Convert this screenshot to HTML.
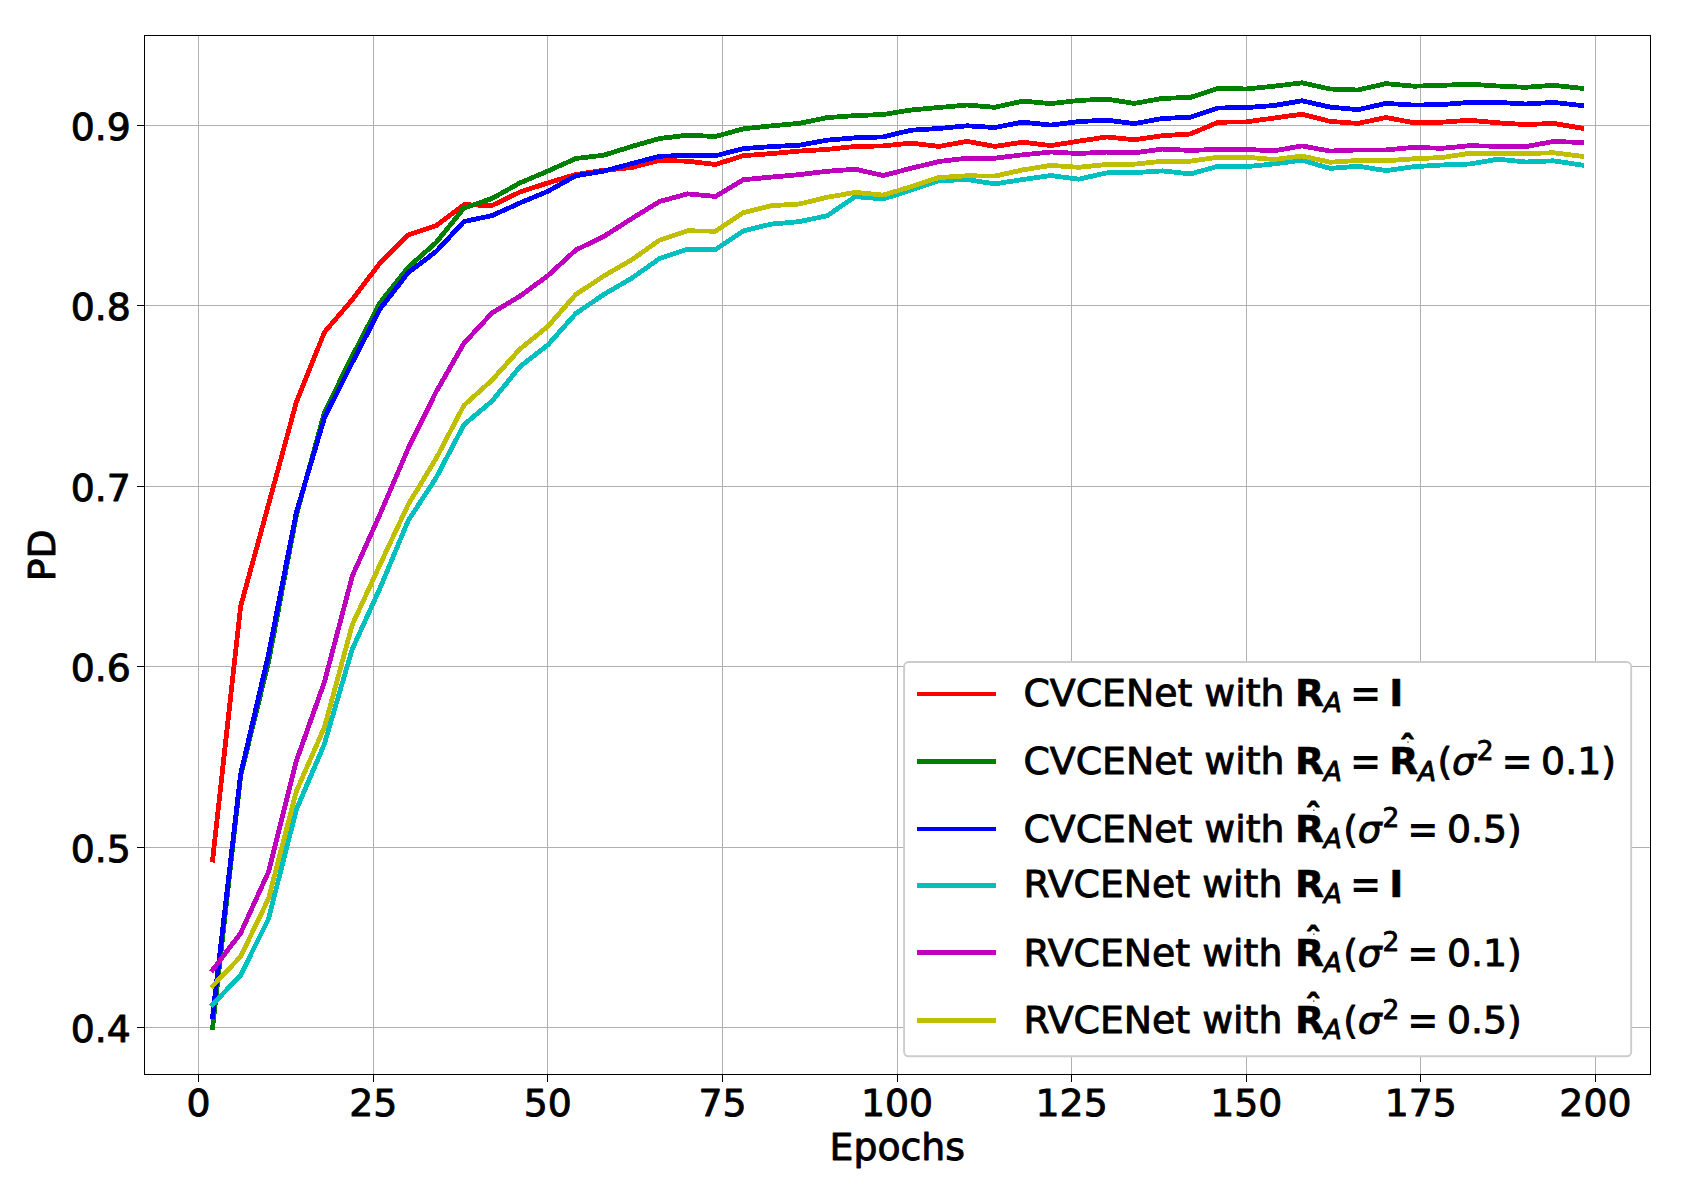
<!DOCTYPE html>
<html lang="en"><head><meta charset="utf-8"><title>PD vs Epochs</title>
<style>html,body{margin:0;padding:0;background:#fff}body{width:1686px;height:1192px;overflow:hidden}svg{display:block}
text{font-family:"DejaVu Sans","Liberation Sans",sans-serif;fill:#000;stroke:#000;stroke-width:0.9px;stroke-linejoin:round}
.t{font-size:37.80px}.b{font-weight:bold;stroke-width:0.5px}.e{font-weight:bold;stroke:none}.i{font-style:italic}.s{font-size:26.46px}.h{font-size:33.00px;font-weight:bold}
</style></head><body>
<svg width="1686" height="1192" viewBox="0 0 1686 1192">
<rect width="1686" height="1192" fill="#fff"/>
<path d="M198.50 35.50V1074.50M373.50 35.50V1074.50M547.50 35.50V1074.50M722.50 35.50V1074.50M897.50 35.50V1074.50M1071.50 35.50V1074.50M1246.50 35.50V1074.50M1420.50 35.50V1074.50M1595.50 35.50V1074.50M144.50 1027.50H1650.50M144.50 847.50H1650.50M144.50 666.50H1650.50M144.50 486.50H1650.50M144.50 305.50H1650.50M144.50 125.50H1650.50" stroke="#b0b0b0" stroke-width="1" fill="none"/>
<path d="M198.50 1074.50v7.50M373.50 1074.50v7.50M547.50 1074.50v7.50M722.50 1074.50v7.50M897.50 1074.50v7.50M1071.50 1074.50v7.50M1246.50 1074.50v7.50M1420.50 1074.50v7.50M1595.50 1074.50v7.50M144.50 1027.50h-7.50M144.50 847.50h-7.50M144.50 666.50h-7.50M144.50 486.50h-7.50M144.50 305.50h-7.50M144.50 125.50h-7.50" stroke="#000" stroke-width="1" fill="none"/>
<g fill="none" stroke-width="4.80" stroke-linejoin="round" stroke-linecap="square" shape-rendering="crispEdges">
<polyline stroke="#ff0000" points="212.6,860.0 240.6,606.5 268.5,504.6 296.4,402.0 324.4,332.3 352.3,299.6 380.2,262.7 408.2,234.9 436.1,225.7 464.0,204.7 492.0,205.5 519.9,192.1 547.9,182.9 575.8,174.5 603.7,170.3 631.7,167.5 659.6,160.4 687.5,161.2 715.5,164.5 743.4,155.7 771.3,153.6 799.3,151.1 827.2,149.4 855.1,146.5 883.1,145.9 911.0,143.1 939.0,146.4 966.9,141.4 994.8,146.4 1022.8,142.2 1050.7,145.6 1078.6,141.2 1106.6,137.0 1134.5,139.7 1162.4,135.7 1190.4,134.0 1218.3,122.2 1246.2,121.9 1274.2,118.0 1302.1,114.2 1330.1,121.4 1358.0,123.4 1385.9,117.5 1413.9,122.7 1441.8,122.2 1469.7,120.2 1497.7,122.8 1525.6,124.6 1553.5,123.4 1581.5,128.1"/>
<polyline stroke="#008000" points="212.6,1027.5 240.6,776.0 268.5,662.0 296.4,515.0 324.4,412.5 352.3,356.0 380.2,302.5 408.2,267.3 436.1,242.5 464.0,208.0 492.0,198.5 519.9,182.9 547.9,171.1 575.8,158.5 603.7,155.2 631.7,146.5 659.6,138.5 687.5,135.2 715.5,136.5 743.4,128.8 771.3,125.9 799.3,123.4 827.2,117.6 855.1,115.6 883.1,114.5 911.0,110.0 939.0,107.5 966.9,105.0 994.8,107.3 1022.8,101.1 1050.7,103.6 1078.6,100.5 1106.6,99.1 1134.5,103.4 1162.4,98.4 1190.4,97.4 1218.3,88.3 1246.2,89.0 1274.2,86.2 1302.1,82.8 1330.1,89.0 1358.0,90.0 1385.9,83.6 1413.9,86.2 1441.8,85.3 1469.7,84.2 1497.7,86.0 1525.6,87.3 1553.5,85.3 1581.5,88.3"/>
<polyline stroke="#0000ff" points="212.6,1016.5 240.6,774.3 268.5,654.5 296.4,512.2 324.4,418.0 352.3,362.5 380.2,308.8 408.2,272.7 436.1,251.5 464.0,221.5 492.0,215.6 519.9,203.0 547.9,191.3 575.8,175.7 603.7,171.1 631.7,163.6 659.6,156.2 687.5,155.5 715.5,155.8 743.4,148.6 771.3,146.6 799.3,145.2 827.2,140.2 855.1,137.8 883.1,136.9 911.0,130.2 939.0,128.5 966.9,125.8 994.8,127.5 1022.8,122.1 1050.7,125.1 1078.6,121.6 1106.6,120.2 1134.5,123.6 1162.4,118.5 1190.4,117.2 1218.3,108.0 1246.2,107.6 1274.2,105.5 1302.1,100.8 1330.1,107.1 1358.0,109.7 1385.9,103.4 1413.9,105.1 1441.8,104.6 1469.7,102.4 1497.7,102.4 1525.6,104.0 1553.5,102.4 1581.5,105.5"/>
<polyline stroke="#00bfbf" points="212.6,1004.5 240.6,975.1 268.5,918.9 296.4,809.5 324.4,744.0 352.3,649.0 380.2,587.7 408.2,520.6 436.1,477.8 464.0,424.6 492.0,401.1 519.9,366.7 547.9,344.9 575.8,313.5 603.7,294.5 631.7,278.2 659.6,258.5 687.5,249.3 715.5,249.6 743.4,230.8 771.3,224.1 799.3,221.6 827.2,215.7 855.1,196.6 883.1,199.0 911.0,190.1 939.0,180.8 966.9,179.5 994.8,183.9 1022.8,179.5 1050.7,175.5 1078.6,179.2 1106.6,172.9 1134.5,172.6 1162.4,170.9 1190.4,173.9 1218.3,166.2 1246.2,166.7 1274.2,163.9 1302.1,160.2 1330.1,168.4 1358.0,166.2 1385.9,170.6 1413.9,166.7 1441.8,165.0 1469.7,164.0 1497.7,159.2 1525.6,162.0 1553.5,160.8 1581.5,165.0"/>
<polyline stroke="#bf00bf" points="212.6,970.0 240.6,933.2 268.5,871.9 296.4,760.8 324.4,682.0 352.3,576.0 380.2,513.8 408.2,448.4 436.1,391.9 464.0,343.2 492.0,313.0 519.9,296.2 547.9,275.6 575.8,250.0 603.7,236.5 631.7,218.6 659.6,201.5 687.5,193.9 715.5,196.4 743.4,179.7 771.3,177.1 799.3,174.6 827.2,171.3 855.1,169.2 883.1,175.5 911.0,168.3 939.0,161.5 966.9,158.2 994.8,158.2 1022.8,154.8 1050.7,152.0 1078.6,153.5 1106.6,152.1 1134.5,152.8 1162.4,149.1 1190.4,150.4 1218.3,149.4 1246.2,149.4 1274.2,150.8 1302.1,145.9 1330.1,151.1 1358.0,149.9 1385.9,149.9 1413.9,147.4 1441.8,148.3 1469.7,145.7 1497.7,146.3 1525.6,146.6 1553.5,141.5 1581.5,142.4"/>
<polyline stroke="#bfbf00" points="212.6,986.0 240.6,956.6 268.5,898.7 296.4,791.1 324.4,727.3 352.3,624.6 380.2,564.2 408.2,504.6 436.1,458.5 464.0,405.3 492.0,380.1 519.9,349.1 547.9,326.4 575.8,294.5 603.7,276.0 631.7,259.8 659.6,240.1 687.5,230.8 715.5,231.2 743.4,212.7 771.3,205.7 799.3,204.0 827.2,197.3 855.1,192.4 883.1,195.1 911.0,186.7 939.0,177.5 966.9,175.8 994.8,176.1 1022.8,169.9 1050.7,165.4 1078.6,167.3 1106.6,164.5 1134.5,164.2 1162.4,161.2 1190.4,161.2 1218.3,157.2 1246.2,157.2 1274.2,159.5 1302.1,156.0 1330.1,162.2 1358.0,160.5 1385.9,160.8 1413.9,158.8 1441.8,157.5 1469.7,153.3 1497.7,153.5 1525.6,153.5 1553.5,152.8 1581.5,156.3"/>
</g>
<rect x="144.50" y="35.50" width="1506.00" height="1039.00" fill="none" stroke="#000" stroke-width="1"/>
<text class="t" x="198.65" y="1116.00" text-anchor="middle">0</text>
<text class="t" x="373.25" y="1116.00" text-anchor="middle">25</text>
<text class="t" x="547.85" y="1116.00" text-anchor="middle">50</text>
<text class="t" x="722.45" y="1116.00" text-anchor="middle">75</text>
<text class="t" x="897.05" y="1116.00" text-anchor="middle">100</text>
<text class="t" x="1071.65" y="1116.00" text-anchor="middle">125</text>
<text class="t" x="1246.25" y="1116.00" text-anchor="middle">150</text>
<text class="t" x="1420.85" y="1116.00" text-anchor="middle">175</text>
<text class="t" x="1595.45" y="1116.00" text-anchor="middle">200</text>
<text class="t" x="130.90" y="1041.50" text-anchor="end">0.4</text>
<text class="t" x="130.90" y="861.50" text-anchor="end">0.5</text>
<text class="t" x="130.90" y="680.50" text-anchor="end">0.6</text>
<text class="t" x="130.90" y="500.50" text-anchor="end">0.7</text>
<text class="t" x="130.90" y="319.50" text-anchor="end">0.8</text>
<text class="t" x="130.90" y="139.50" text-anchor="end">0.9</text>
<text class="t" x="897.3" y="1159.9" text-anchor="middle">Epochs</text>
<text class="t" transform="translate(55.0,555.3) rotate(-90)" text-anchor="middle">PD</text>
<rect x="904.10" y="662.00" width="727.10" height="394.30" rx="4.5" ry="4.5" fill="#fff" stroke="#ccc" stroke-width="1.9"/>
<rect x="917" y="692" width="79" height="4" fill="#ff0000" shape-rendering="crispEdges"/>
<rect x="917" y="759" width="79" height="5" fill="#008000" shape-rendering="crispEdges"/>
<rect x="917" y="827" width="79" height="4" fill="#0000ff" shape-rendering="crispEdges"/>
<rect x="917" y="883" width="79" height="5" fill="#00bfbf" shape-rendering="crispEdges"/>
<rect x="917" y="950" width="79" height="5" fill="#bf00bf" shape-rendering="crispEdges"/>
<rect x="917" y="1018" width="79" height="5" fill="#bfbf00" shape-rendering="crispEdges"/>
<text class="t"><tspan x="1023.48" y="706.00">CVCENet with </tspan><tspan class="b" x="1295.00" y="706.00">R</tspan><tspan class="s i" x="1323.70" y="712.00">A</tspan><tspan class="e" x="1349.70" y="705.70">=</tspan><tspan class="b" x="1389.20" y="706.00">I</tspan></text>
<text class="t"><tspan x="1023.48" y="773.90">CVCENet with </tspan><tspan class="b" x="1295.00" y="773.90">R</tspan><tspan class="s i" x="1323.70" y="780.90">A</tspan><tspan class="e" x="1349.70" y="773.60">=</tspan><tspan class="b" x="1389.20" y="773.90">R</tspan><tspan class="h" x="1399.30" y="760.00">ˆ</tspan><tspan class="s i" x="1417.90" y="780.90">A</tspan><tspan x="1437.50" y="773.90">(</tspan><tspan class="i" x="1451.90" y="773.90">σ</tspan><tspan class="s" x="1476.70" y="759.70">2</tspan><tspan class="e" x="1501.30" y="773.60">=</tspan><tspan x="1541.10" y="773.90">0.1)</tspan></text>
<text class="t"><tspan x="1023.48" y="842.00">CVCENet with </tspan><tspan class="b" x="1295.00" y="842.00">R</tspan><tspan class="h" x="1305.10" y="828.10">ˆ</tspan><tspan class="s i" x="1323.70" y="847.90">A</tspan><tspan x="1343.30" y="842.00">(</tspan><tspan class="i" x="1357.70" y="842.00">σ</tspan><tspan class="s" x="1382.50" y="826.80">2</tspan><tspan class="e" x="1407.10" y="841.70">=</tspan><tspan x="1446.90" y="842.00">0.5)</tspan></text>
<text class="t"><tspan x="1023.48" y="896.90">RVCENet with </tspan><tspan class="b" x="1295.00" y="896.90">R</tspan><tspan class="s i" x="1323.70" y="902.90">A</tspan><tspan class="e" x="1349.70" y="896.60">=</tspan><tspan class="b" x="1389.20" y="896.90">I</tspan></text>
<text class="t"><tspan x="1023.48" y="966.00">RVCENet with </tspan><tspan class="b" x="1295.00" y="966.00">R</tspan><tspan class="h" x="1305.10" y="952.10">ˆ</tspan><tspan class="s i" x="1323.70" y="971.90">A</tspan><tspan x="1343.30" y="966.00">(</tspan><tspan class="i" x="1357.70" y="966.00">σ</tspan><tspan class="s" x="1382.50" y="950.80">2</tspan><tspan class="e" x="1407.10" y="965.70">=</tspan><tspan x="1446.90" y="966.00">0.1)</tspan></text>
<text class="t"><tspan x="1023.48" y="1032.90">RVCENet with </tspan><tspan class="b" x="1295.00" y="1032.90">R</tspan><tspan class="h" x="1305.10" y="1019.00">ˆ</tspan><tspan class="s i" x="1323.70" y="1038.80">A</tspan><tspan x="1343.30" y="1032.90">(</tspan><tspan class="i" x="1357.70" y="1032.90">σ</tspan><tspan class="s" x="1382.50" y="1018.60">2</tspan><tspan class="e" x="1407.10" y="1032.60">=</tspan><tspan x="1446.90" y="1032.90">0.5)</tspan></text>
<rect x="1407.4" y="741.5" width="1.2" height="1.2" fill="#000"/>
<rect x="1313.2" y="809.6" width="1.2" height="1.2" fill="#000"/>
<rect x="1313.2" y="933.6" width="1.2" height="1.2" fill="#000"/>
<rect x="1313.2" y="1000.5" width="1.2" height="1.2" fill="#000"/>
</svg></body></html>
